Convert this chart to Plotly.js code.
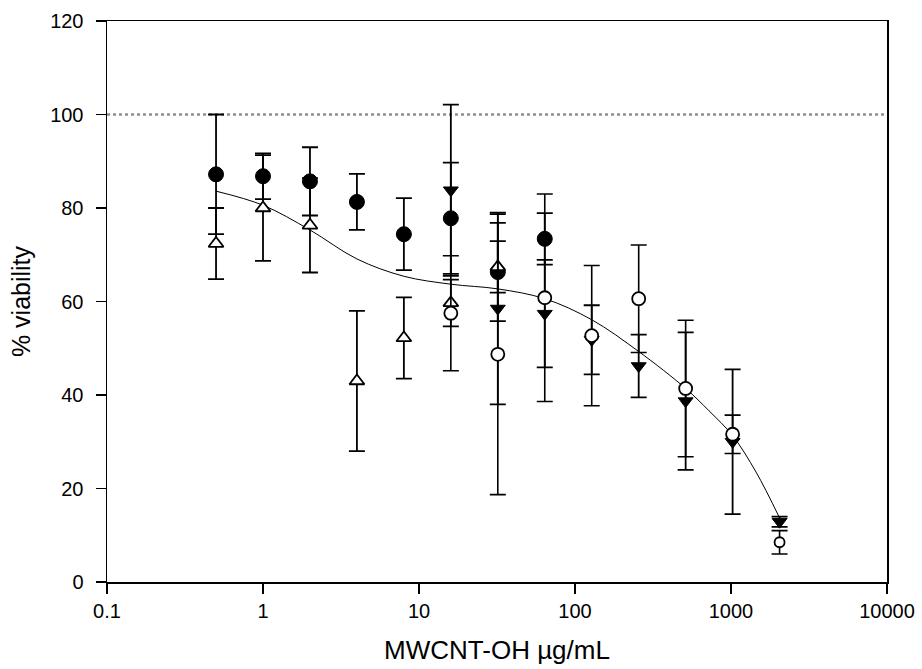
<!DOCTYPE html>
<html>
<head>
<meta charset="utf-8">
<script src="https://cdn.plot.ly/plotly-3.0.1.min.js"></script>
<style>html,body{margin:0;padding:0;background:#fff;}#chart{width:922px;height:669px;}</style>
</head>
<body>
<div id="chart"></div>
<script>
// ---- data ----
var xTickVals = [0.1, 1, 10, 100, 1000, 10000];
var xTickText = ["0.1", "1", "10", "100", "1000", "10000"];
var yTickVals = [0, 20, 40, 60, 80, 100, 120];
var refLevel = 100;

// filled circles
var filledX   = [0.5, 1, 2, 4, 8, 16, 32, 64];
var filledY   = [87.2, 86.8, 85.7, 81.3, 74.4, 77.8, 66.3, 73.4];
var filledErr = [12.8, 4.9, 7.3, 6.0, 7.7, 11.9, 10.5, 5.5];

// open up-triangles
var triUpX   = [0.5, 1, 2, 4, 8, 16, 32];
var triUpY   = [72.4, 80.0, 76.3, 43.0, 52.2, 59.7, 67.4];
var triUpErr = [7.6, 11.3, 10.1, 15.0, 8.7, 5.0, 5.5];

// filled down-triangles
var triDownX   = [16, 32, 64, 128, 256, 512, 1024, 2048];
var triDownY   = [83.8, 58.5, 57.4, 51.8, 46.2, 38.7, 30.0, 12.9];
var triDownErr = [18.3, 20.5, 11.5, 7.4, 6.7, 14.7, 15.5, 1.1];

// open circles
var openX   = [16, 32, 64, 128, 256, 512, 1024, 2048];
var openY   = [57.5, 48.7, 60.8, 52.7, 60.6, 41.4, 31.6, 8.5];
var openErr = [12.3, 30.0, 22.2, 15.0, 11.5, 14.6, 4.1, 2.5];

// fitted curve
var fitX = [0.5, 1, 2, 4, 8, 16, 32, 64, 128, 256, 512, 724, 1024, 1448, 2048];
var fitY = [83.6, 80.6, 75.3, 69.1, 65.4, 63.7, 62.7, 60.6, 56.1, 49.3, 41.4, 36.6, 31.3, 23.5, 13.7];

// ---- styling ----
var FONT = "Liberation Sans, Arial, sans-serif";
function errBar(arr, th) {
  return {type: "data", array: arr, visible: true, color: "#000", thickness: th || 1.8, width: 8};
}

var traces = [
  {x: fitX, y: fitY, type: "scatter", mode: "lines",
   line: {color: "#000", width: 1, shape: "spline", smoothing: 1}, hoverinfo: "skip"},
  {x: filledX, y: filledY, type: "scatter", mode: "markers",
   error_y: errBar(filledErr),
   marker: {symbol: "circle", size: 15, color: "#000", opacity: 1, line: {color: "#000", width: 1}}},
  {x: triUpX, y: triUpY, type: "scatter", mode: "markers",
   error_y: errBar(triUpErr),
   marker: {symbol: "triangle-up", size: 13, color: "#fff", opacity: 1, line: {color: "#000", width: 1.8}}},
  {x: triDownX, y: triDownY, type: "scatter", mode: "markers",
   error_y: errBar(triDownErr),
   marker: {symbol: "triangle-down", size: 13, color: "#000", opacity: 1, line: {color: "#000", width: 1}}},
  {x: openX, y: openY, type: "scatter", mode: "markers",
   error_y: errBar(openErr, 1.6),
   marker: {symbol: "circle", size: [13, 13, 13, 13, 13, 13, 13, 10], sizemode: "diameter",
            color: "#fff", opacity: 1, line: {color: "#000", width: 1.8}}}
];

var layout = {
  width: 922, height: 669,
  margin: {l: 107, r: 35, t: 21, b: 87, pad: 0},
  paper_bgcolor: "#fff", plot_bgcolor: "#fff",
  showlegend: false,
  font: {family: FONT, size: 20, color: "#000"},
  xaxis: {
    type: "log", range: [-1, 4], tickmode: "array",
    tickvals: xTickVals, ticktext: xTickText,
    ticks: "outside", ticklen: 10, tickwidth: 1.5, tickcolor: "#000",
    showline: true, linecolor: "#000", linewidth: 1.5, mirror: true,
    showgrid: false, zeroline: false,
    tickfont: {family: FONT, size: 20, color: "#000"},
    title: {text: "MWCNT-OH µg/mL", font: {family: FONT, size: 26, color: "#000"}, standoff: 20},
    automargin: false
  },
  yaxis: {
    range: [0, 120], tickmode: "array", tickvals: yTickVals,
    ticks: "outside", ticklen: 10, tickwidth: 1.5, tickcolor: "#000",
    showline: true, linecolor: "#000", linewidth: 1.5, mirror: true,
    showgrid: false, zeroline: false,
    ticklabelstandoff: 8,
    tickfont: {family: FONT, size: 20, color: "#000"},
    title: {text: "% viability", font: {family: FONT, size: 25, color: "#000"}, standoff: 12},
    automargin: false
  },
  shapes: [
    {type: "line", xref: "paper", x0: 0, x1: 1, yref: "y", y0: refLevel, y1: refLevel,
     line: {color: "#8f8f8f", width: 2.5, dash: "dot"}, layer: "below"}
  ]
};

Plotly.newPlot("chart", traces, layout, {displayModeBar: false, staticPlot: true});
</script>
</body>
</html>
